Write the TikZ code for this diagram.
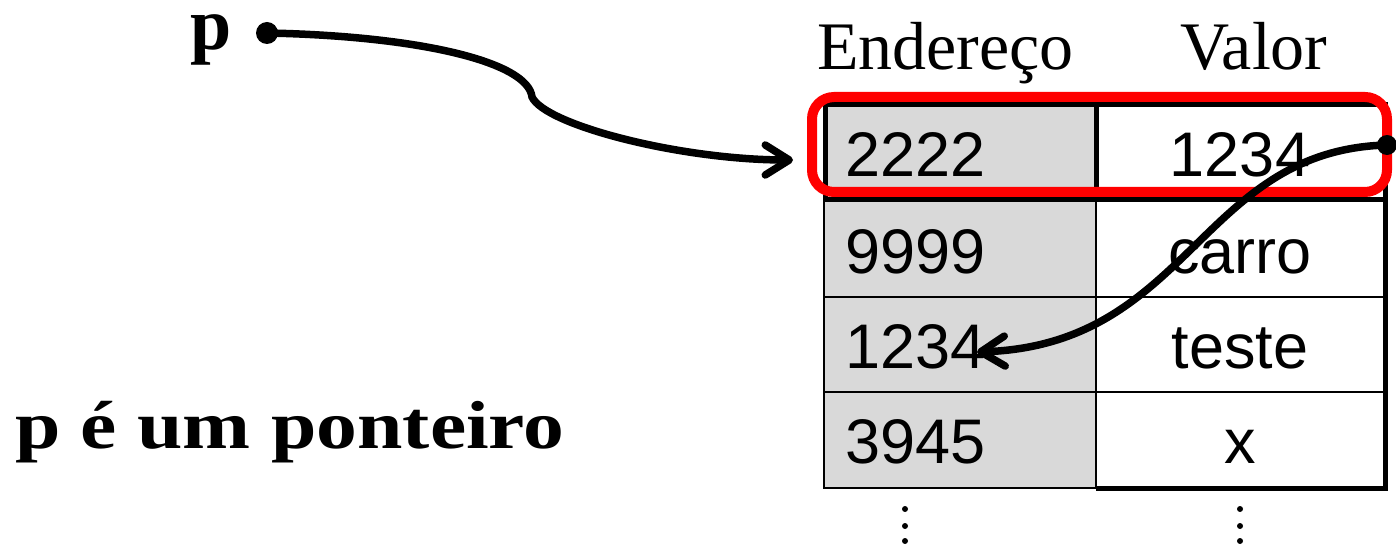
\documentclass[tikz,border=0pt]{standalone}
\usepackage{fontspec}
\setmainfont{Liberation Serif}
\newfontfamily\arialf{Liberation Sans}
\newfontfamily\wideserif[FakeStretch=1.2]{Liberation Serif}
\usetikzlibrary{arrows.meta}
\definecolor{cellgray}{HTML}{D9D9D9}
\definecolor{selred}{HTML}{FF0000}
\begin{document}
\begin{tikzpicture}[x=1pt,y=-1pt,
  numtxt/.style={font=\arialf\fontsize{63}{63}\selectfont, anchor=base west, inner sep=0pt},
  valtxt/.style={font=\arialf\fontsize{63}{63}\selectfont, anchor=base, inner sep=0pt},
  hdrtxt/.style={font=\fontsize{68}{68}\selectfont, anchor=base west, inner sep=0pt},
  thickline/.style={line width=5pt},
  thinline/.style={line width=2pt},
  ptr/.style={line width=7.5pt, line cap=round,
    -{Straight Barb[length=24pt,width=30pt,line cap=round,line join=round]}},
  vdot/.style={fill=black}]
\useasboundingbox[fill=white] (0,0) rectangle (1396,545);

% table body
\fill[cellgray] (825,105) rectangle (1096,488);
\draw[thinline] (824,200) -- (824,488) -- (1096,488);
\draw[thinline] (824,297) -- (1385,297);
\draw[thinline] (824,392) -- (1385,392);
\draw[thinline] (1096,200) -- (1096,488);
\draw[thickline] (825,105) rectangle (1385,200);
\draw[thickline] (1096,105) -- (1096,200);
\draw[thickline] (1385,200) -- (1385,488) -- (1096,488);

% headers
\node[hdrtxt] (hEnd) at (817,70) {Endereço};
\node[hdrtxt] (hVal) at (1180,70) {Valor};

% cells
\node[numtxt] (a1) at (845,177) {2222};
\node[numtxt] (a2) at (845,273) {9999};
\node[numtxt] (a3) at (845,368) {1234};
\node[numtxt] (a4) at (845,463) {3945};
\node[valtxt] (v1) at (1240,177) {1234};
\node[valtxt] (v2) at (1240,273) {carro};
\node[valtxt] (v3) at (1240,368) {teste};
\node[valtxt] (v4) at (1240,463) {x};

% selection box
\node[draw=selred, line width=10pt, rounded corners=22pt, minimum width=575pt,
      minimum height=95pt, inner sep=0pt] (sel) at (1099.5,144.5) {};

% continuation dots
\foreach \yy in {509,526,541} {
  \fill[vdot] (905,\yy) circle (3pt);
  \fill[vdot] (1240,\yy) circle (3pt);
}

% labels
\node[font=\bfseries\fontsize{74}{74}\selectfont, anchor=base west, inner sep=0pt,
      text height=35pt] (plab) at (190,50) {p};
\node[font=\wideserif\bfseries\fontsize{68}{68}\selectfont, anchor=base west, inner sep=0pt] (cap) at (15,448) {p é um ponteiro};

% pointers
\coordinate (pdot) at (267,33);
\coordinate (kink) at (532,97);
\coordinate (tip1) at (793,160);
\coordinate (rdot) at (1387,145);
\coordinate (tip2) at (977,352);
\fill (pdot) circle (11pt);
\draw[ptr] (pdot) .. controls (420,36) and (528,62) .. (kink)
  .. controls (545,125) and (680,160) .. (tip1);
\fill (rdot) circle (10pt);
\draw[ptr] (rdot) .. controls (1200,150) and (1190,345) .. (tip2);
\end{tikzpicture}
\end{document}
